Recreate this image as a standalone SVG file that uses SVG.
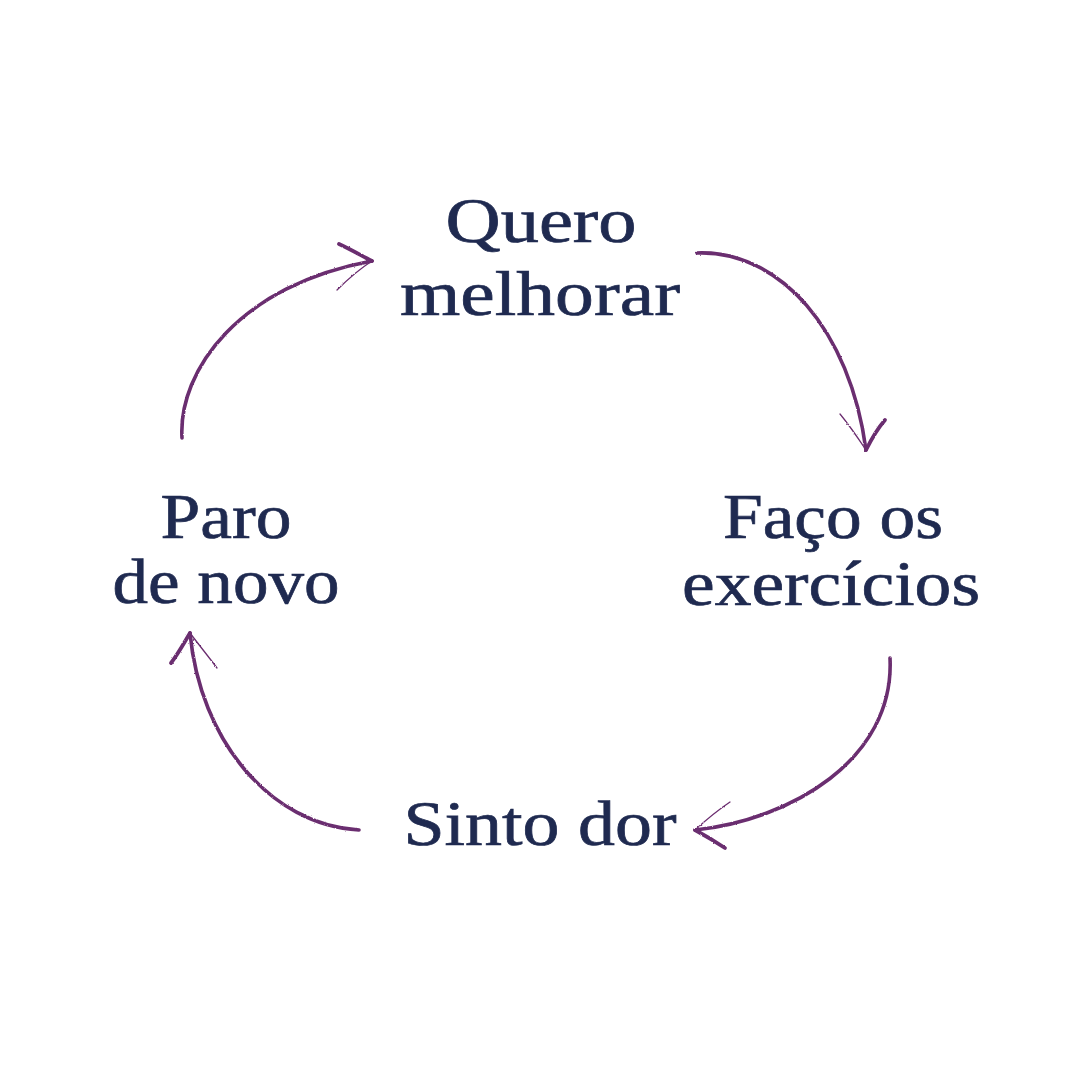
<svg xmlns="http://www.w3.org/2000/svg" width="1080" height="1080" viewBox="0 0 1080 1080">
  <style>
    .lbl { font-family: "Liberation Serif", "DejaVu Serif", serif; font-size: 63px; fill: #1f2a50; stroke: #1f2a50; stroke-width: 0.7; text-anchor: middle; }
    .arc { fill: none; stroke: #6b2d6f; stroke-width: 3.6; stroke-linecap: round; }
    .thick { fill: none; stroke: #6b2d6f; stroke-width: 3.8; stroke-linecap: round; }
    .thin { fill: none; stroke: #6b2d6f; stroke-width: 1.3; stroke-linecap: round; }
  </style>
  <defs>
    <filter id="rough" x="-10%" y="-10%" width="120%" height="120%">
      <feTurbulence type="fractalNoise" baseFrequency="0.9" numOctaves="2" seed="3" result="n"/>
      <feDisplacementMap in="SourceGraphic" in2="n" scale="2" xChannelSelector="R" yChannelSelector="G"/>
    </filter>
  </defs>
  <rect width="1080" height="1080" fill="#ffffff"/>

  <g id="connectors" filter="url(#rough)">
    <g id="arrow-top-left">
      <path class="arc" d="M182,438 C178,370 240,285 372,261"/>
      <path class="thick" d="M339,244 C352,250 362,256 372,261"/>
      <path class="thin" d="M372,261 C358,270 347,280 337,290"/>
    </g>
    <g id="arrow-top-right">
      <path class="arc" d="M697,253 C780,250 850,330 866,450"/>
      <path class="thin" d="M840,414 C850,426 858,438 866,450"/>
      <path class="thick" d="M866,450 C872,438 878,428 885,420"/>
    </g>
    <g id="arrow-bottom-right">
      <path class="arc" d="M890,658 C895,760 790,820 695,830"/>
      <path class="thin" d="M695,830 C706,820 718,810 730,802"/>
      <path class="thick" d="M695,830 C706,836 716,842 725,848"/>
    </g>
    <g id="arrow-bottom-left">
      <path class="arc" d="M359,830 C270,825 200,740 190,633"/>
      <path class="thick" d="M171,663 C178,654 184,643 190,633"/>
      <path class="thin" d="M190,633 C199,645 208,656 217,668"/>
    </g>
  </g>

  <g id="node-quero">
    <text class="lbl" x="541" y="242" textLength="191" lengthAdjust="spacingAndGlyphs">Quero</text>
    <text class="lbl" x="540" y="315" textLength="280" lengthAdjust="spacingAndGlyphs">melhorar</text>
  </g>
  <g id="node-faco">
    <text class="lbl" x="833" y="538" textLength="220" lengthAdjust="spacingAndGlyphs">Faço os</text>
    <text class="lbl" x="831" y="605" textLength="298" lengthAdjust="spacingAndGlyphs">exercícios</text>
  </g>
  <g id="node-sinto">
    <text class="lbl" x="540" y="845" textLength="273" lengthAdjust="spacingAndGlyphs">Sinto dor</text>
  </g>
  <g id="node-paro">
    <text class="lbl" x="226" y="538" textLength="131" lengthAdjust="spacingAndGlyphs">Paro</text>
    <text class="lbl" x="226" y="603" textLength="227" lengthAdjust="spacingAndGlyphs">de novo</text>
  </g>
</svg>
